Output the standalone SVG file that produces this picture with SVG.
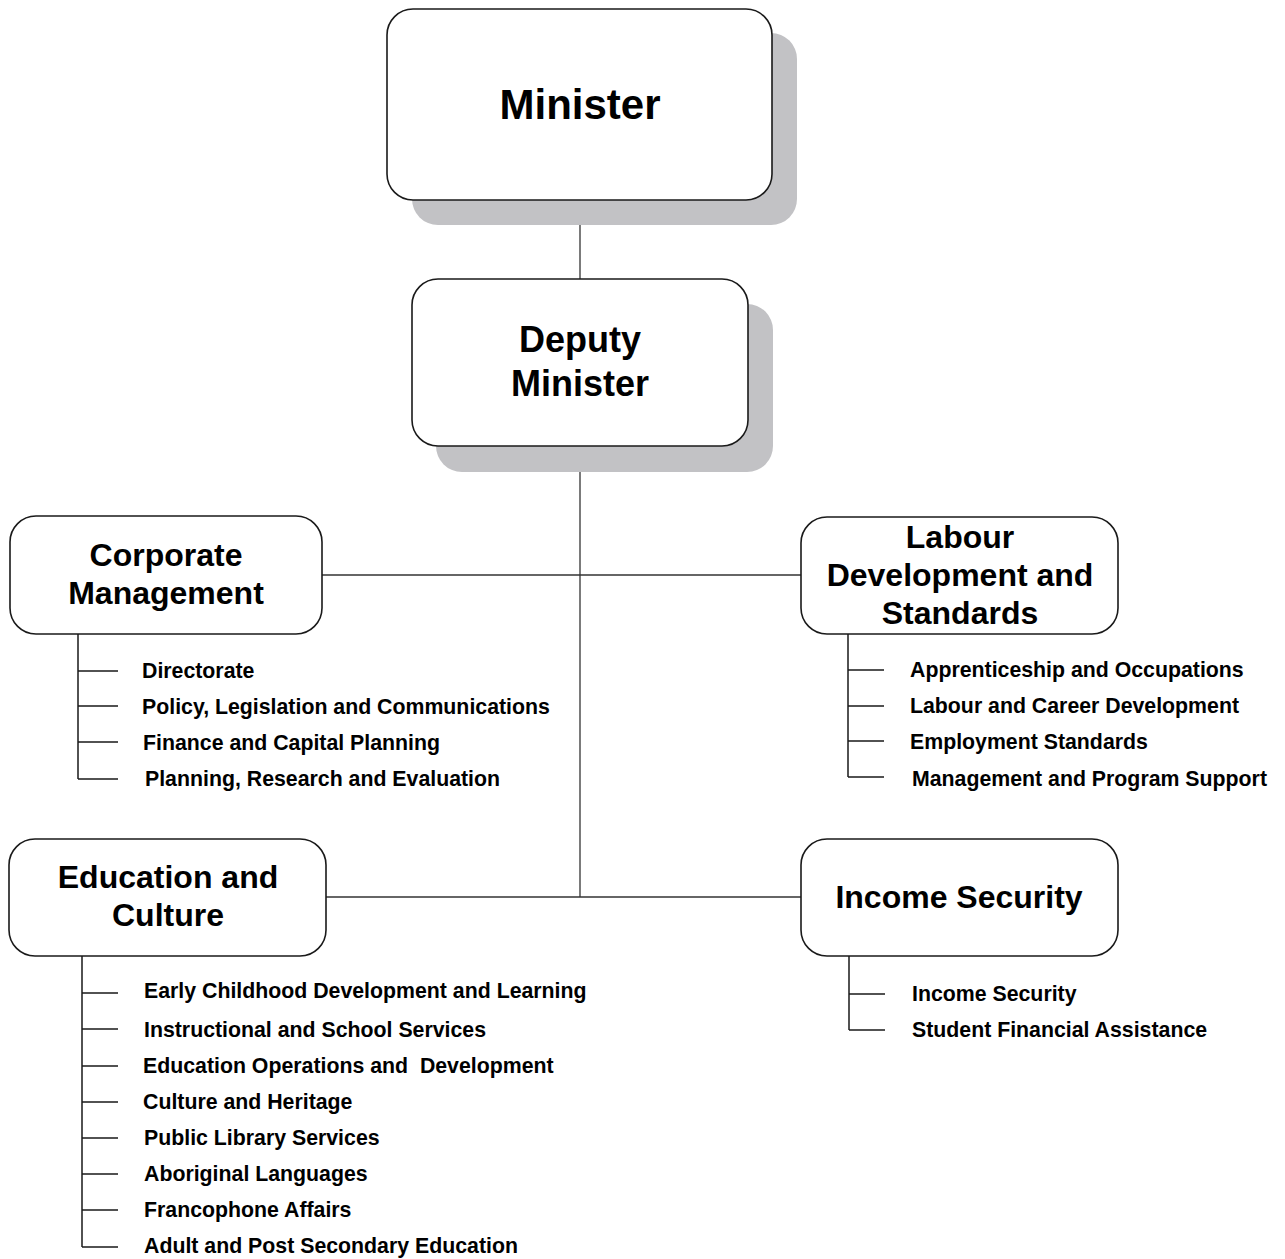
<svg xmlns="http://www.w3.org/2000/svg" width="1285" height="1259" viewBox="0 0 1285 1259">
<style>
.bg{fill:#ffffff}
.shadow{fill:#c2c2c5;stroke:none}
.box{fill:#ffffff;stroke:#1a1a1a;stroke-width:1.6}
.ln{stroke:#333333;stroke-width:1.3;fill:none}
.sub{stroke:#1a1a1a;stroke-width:1.5;fill:none}
.t{font-family:"Liberation Sans",Arial,sans-serif;font-weight:bold;fill:#000000}
.h{font-size:32px;text-anchor:middle}
.s{font-size:21.3px}
</style>
<rect class="bg" x="0" y="0" width="1285" height="1259"/>
<g id="connectors">
  <line class="ln" x1="580" y1="200" x2="580" y2="279"/>
  <line class="ln" x1="580" y1="446" x2="580" y2="897"/>
  <line class="ln" x1="322" y1="575" x2="801" y2="575"/>
  <line class="ln" x1="326" y1="897" x2="801" y2="897"/>
  <path class="sub" d="M78 634V779M78 671H118M78 706H118M78 742H118M78 779H118"/>
  <path class="sub" d="M848 634V777M848 670H884M848 706H884M848 741H884M848 777H884"/>
  <path class="sub" d="M82 956V1247M82 993H118M82 1029H118M82 1066H118M82 1102H118M82 1138H118M82 1174H118M82 1210H118M82 1247H118"/>
  <path class="sub" d="M849 956V1030M849 994H885M849 1030H885"/>
</g>
<g id="minister">
  <rect class="shadow" x="412" y="33" width="385" height="192" rx="26"/>
  <rect class="box" x="387" y="9" width="385" height="191" rx="26"/>
  <text class="t" x="580" y="119" font-size="42" text-anchor="middle">Minister</text>
</g>
<g id="deputy-minister">
  <rect class="shadow" x="436" y="304" width="337" height="168" rx="26"/>
  <rect class="box" x="412" y="279" width="336" height="167" rx="26"/>
  <text class="t" x="580" y="352" font-size="36" text-anchor="middle">Deputy</text>
  <text class="t" x="580" y="396" font-size="36" text-anchor="middle">Minister</text>
</g>
<g id="corporate-management">
  <rect class="box" x="10" y="516" width="312" height="118" rx="26"/>
  <text class="t h" x="166" y="566">Corporate</text>
  <text class="t h" x="166" y="604">Management</text>
  <text class="t s" x="142" y="678">Directorate</text>
  <text class="t s" x="142" y="714">Policy, Legislation and Communications</text>
  <text class="t s" x="143" y="750">Finance and Capital Planning</text>
  <text class="t s" x="145" y="786">Planning, Research and Evaluation</text>
</g>
<g id="labour-development">
  <rect class="box" x="801" y="517" width="317" height="117" rx="26"/>
  <text class="t h" x="960" y="548">Labour</text>
  <text class="t h" x="960" y="586">Development and</text>
  <text class="t h" x="960" y="624">Standards</text>
  <text class="t s" x="910" y="677">Apprenticeship and Occupations</text>
  <text class="t s" x="910" y="713">Labour and Career Development</text>
  <text class="t s" x="910" y="749">Employment Standards</text>
  <text class="t s" x="912" y="786">Management and Program Support</text>
</g>
<g id="education-culture">
  <rect class="box" x="9" y="839" width="317" height="117" rx="26"/>
  <text class="t h" x="168" y="888">Education and</text>
  <text class="t h" x="168" y="926">Culture</text>
  <text class="t s" x="144" y="998">Early Childhood Development and Learning</text>
  <text class="t s" x="144" y="1037">Instructional and School Services</text>
  <text class="t s" x="143" y="1073" xml:space="preserve" style="white-space:pre">Education Operations and  Development</text>
  <text class="t s" x="143" y="1109">Culture and Heritage</text>
  <text class="t s" x="144" y="1145">Public Library Services</text>
  <text class="t s" x="144" y="1181">Aboriginal Languages</text>
  <text class="t s" x="144" y="1217">Francophone Affairs</text>
  <text class="t s" x="144" y="1253">Adult and Post Secondary Education</text>
</g>
<g id="income-security">
  <rect class="box" x="801" y="839" width="317" height="117" rx="26"/>
  <text class="t h" x="959" y="908">Income Security</text>
  <text class="t s" x="912" y="1001">Income Security</text>
  <text class="t s" x="912" y="1037">Student Financial Assistance</text>
</g>
</svg>
